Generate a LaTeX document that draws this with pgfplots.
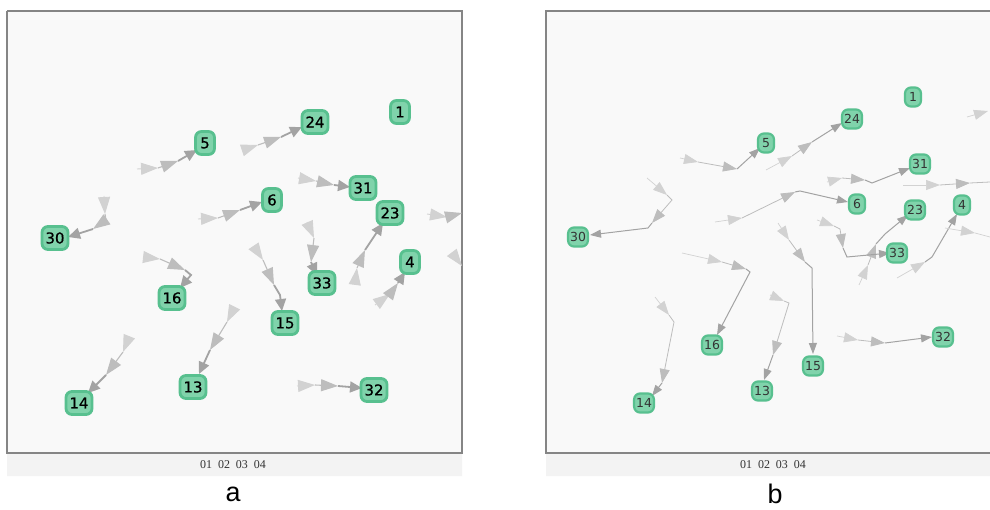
\documentclass[border=0pt]{standalone}
\usepackage{pgfplots}
\pgfplotsset{compat=1.18}
\usepackage{fontspec}
\setmainfont{DejaVu Sans}
\newfontfamily\nodefont[FakeBold=0.7]{DejaVu Sans}
\newfontfamily\capfont{Liberation Sans}
\newfontfamily\serfont{Liberation Serif}
\usetikzlibrary{arrows.meta}
\definecolor{nfill}{HTML}{80D3AB}
\definecolor{nborder}{HTML}{58C08F}
\definecolor{ga}{HTML}{D2D2D2}
\definecolor{gb}{HTML}{BDBDBD}
\definecolor{gc}{HTML}{A3A3A3}
\definecolor{panelbg}{HTML}{F9F9F9}
\definecolor{stripbg}{HTML}{F3F3F3}
\definecolor{framec}{HTML}{858585}
\pgfplotsset{
 aA/.style={ga, line width=0.9bp, -{Triangle[length=17bp,width=12bp]}},
 aB/.style={gb, line width=1.1bp, -{Triangle[length=17bp,width=12bp]}},
 aC/.style={gc, line width=1.8bp, -{Triangle[length=12bp,width=11bp]}},
 bA/.style={ga, line width=0.7bp, -{Triangle[length=14bp,width=10bp]}},
 bB/.style={gb, line width=0.8bp, -{Triangle[length=14bp,width=10bp]}},
 bC/.style={gc, line width=1.0bp, -{Triangle[length=11bp,width=8bp]}},
}
\newcommand{\seg}[2]{\addplot[#1] coordinates {#2};}
\begin{document}
\begin{tikzpicture}
\begin{axis}[x=1bp, y=1bp, xmin=0, xmax=990, ymin=0, ymax=510, y dir=reverse,
  axis lines=none, scale only axis]
% page
\addplot[fill=white, draw=none] coordinates {(0,0) (990,0) (990,510) (0,510) (0,0)};
% panel a
\addplot[fill=stripbg, draw=none] coordinates {(7,453) (462,453) (462,476) (7,476) (7,453)};
\addplot[fill=panelbg, draw=framec, line width=1.5bp] coordinates {(7,11) (462,11) (462,453) (7,453) (7,11)};
% panel b
\addplot[fill=stripbg, draw=none] coordinates {(546,453) (990,453) (990,476) (546,476) (546,453)};
\addplot[fill=panelbg, draw=none] coordinates {(546,11) (990,11) (990,453) (546,453) (546,11)};
\addplot[draw=framec, line width=1.5bp] coordinates {(990,11) (546,11) (546,453) (990,453)};

% ---- panel a trajectories
\seg{aA}{(137,169) (158,168)} \seg{aB}{(158,168) (178,161)} \seg{aC}{(178,161) (197,150)}
\seg{aA}{(243,150) (258,145)} \seg{aB}{(258,145) (281,137)} \seg{aC}{(281,137) (302,127)}
\seg{aA}{(298,178) (316,181)} \seg{aB}{(316,181) (334,185)} \seg{aC}{(334,185) (350,187)}
\seg{aA}{(198,219) (218,218)} \seg{aB}{(218,218) (240,210)} \seg{aC}{(240,210) (262,202)}
\seg{aA}{(104,196) (105,214)} \seg{aB}{(105,214) (106,220) (93,229)} \seg{aC}{(93,229) (68,237)}
\seg{aA}{(355,283) (357,268)} \seg{aB}{(357,268) (365,250)} \seg{aC}{(365,250) (383,223)}
\seg{aA}{(375,305) (390,294)} \seg{aB}{(390,294) (398,283)} \seg{aC}{(398,283) (405,272)}
\seg{aA}{(307,222) (314,238)} \seg{aB}{(314,238) (311,262)} \seg{aC}{(311,262) (317,275)}
\seg{aA}{(255,248) (263,260)} \seg{aB}{(263,260) (274,285)} \seg{aC}{(274,285) (280,295) (282,311)}
\seg{aA}{(143,257) (160,259)} \seg{aB}{(160,259) (185,270)} \seg{aC}{(185,270) (191,275) (180,288)}
\seg{aA}{(232,312) (227,322)} \seg{aB}{(227,322) (210,350)} \seg{aC}{(210,350) (199,374)}
\seg{aA}{(129,337) (123,352)} \seg{aB}{(123,352) (106,375)} \seg{aC}{(106,375) (88,393)}
\seg{aA}{(297,386) (315,385)} \seg{aB}{(315,385) (338,386)} \seg{aC}{(338,386) (362,388)}
\seg{aA}{(427,214) (447,217)} \seg{aB}{(447,217) (462,213)}
\seg{aA}{(456,258) (462,266)}

% ---- panel b trajectories
\seg{bA}{(680,158) (698,162)} \seg{bB}{(698,162) (737,169)} \seg{bC}{(737,169) (760,148)}
\seg{bA}{(766,170) (792,156)} \seg{bB}{(792,156) (812,142)} \seg{bC}{(812,142) (842,123)}
\seg{bA}{(827,182) (842,178)} \seg{bB}{(842,178) (865,180)} \seg{bC}{(865,180) (872,183) (910,168)}
\seg{bA}{(715,222) (742,218)} \seg{bB}{(742,218) (795,192)} \seg{bC}{(795,192) (800,191) (848,202)}
\seg{bA}{(647,178) (667,195)} \seg{bB}{(667,195) (672,200) (652,223)} \seg{bC}{(652,223) (648,228) (590,235)}
\seg{bA}{(859,285) (868,265)} \seg{bB}{(868,265) (876,244)} \seg{bC}{(876,244) (885,234) (908,215)}
\seg{bA}{(817,220) (834,226)} \seg{bB}{(834,226) (840,229) (843,248)} \seg{bC}{(843,248) (847,257) (890,253)}
\seg{bA}{(897,278) (925,262)} \seg{bC}{(925,262) (932,257) (957,214)}
\seg{bA}{(778,223) (789,240)} \seg{bB}{(789,240) (805,262)} \seg{bC}{(805,262) (812,268) (813,354)}
\seg{bA}{(682,253) (722,262)} \seg{bB}{(722,262) (746,269)} \seg{bC}{(746,269) (750,272) (717,335)}
\seg{bA}{(770,295) (784,301)} \seg{bB}{(784,301) (789,303) (773,355)} \seg{bC}{(773,355) (764,380)}
\seg{bA}{(655,297) (669,315)} \seg{bB}{(669,315) (674,322) (662,383)} \seg{bC}{(662,383) (652,396)}
\seg{bA}{(837,336) (858,340)} \seg{bB}{(858,340) (885,343)} \seg{bC}{(885,343) (932,337)}
\seg{bA}{(903,185) (940,185)} \seg{bB}{(940,185) (970,183)} \addplot[gb, line width=0.8bp] coordinates {(970,183) (990,182)};
\seg{bA}{(967,117) (988,111)}
\seg{bA}{(945,228) (975,233)} \addplot[ga, line width=0.7bp] coordinates {(975,233) (990,237)};

% ---- nodes panel a
\addplot[draw=none, mark=none, point meta=explicit symbolic, nodes near coords,
  nodes near coords align=center,
  nodes near coords style={anchor=center, fill=nfill, draw=nborder, line width=2.8bp,
    rounded corners=6bp, inner xsep=3.5bp, inner ysep=2.5bp, minimum height=23bp,
    minimum width=19bp, text=black, font=\nodefont\fontsize{15}{16}\selectfont}]
 table[meta=l] {
x y l
400 112 1
315 122 24
205 143 5
363 188 31
272 200 6
390 213 23
55 238 30
410 262 4
322 283 33
172 298 16
285 323 15
193 387 13
79 403 14
374 390 32
};
% ---- nodes panel b
\addplot[draw=none, mark=none, point meta=explicit symbolic, nodes near coords,
  nodes near coords align=center,
  nodes near coords style={anchor=center, fill=nfill, draw=nborder, line width=2.2bp,
    rounded corners=6bp, inner xsep=2bp, inner ysep=1.5bp, minimum height=19bp,
    minimum width=16bp, text=black!80, font=\fontsize{12.5}{13}\selectfont}]
 table[meta=l] {
x y l
913 97 1
852 119 24
766 143 5
920 164 31
857 204 6
915 210 23
962 205 4
897 253 33
578 237 30
712 345 16
813 366 15
762 391 13
644 403 14
943 337 32
};
% ---- texts
\addplot[draw=none, mark=none, point meta=explicit symbolic, nodes near coords,
  nodes near coords align=center,
  nodes near coords style={anchor=center, text=black!80, font=\serfont\fontsize{12}{13}\selectfont}]
 table[meta=l] {
x y l
233 465 {01\hspace{6bp}02\hspace{6bp}03\hspace{6bp}04}
773 465 {01\hspace{6bp}02\hspace{6bp}03\hspace{6bp}04}
};
\addplot[draw=none, mark=none, point meta=explicit symbolic, nodes near coords,
  nodes near coords align=center,
  nodes near coords style={anchor=center, text=black, font=\capfont\fontsize{27}{28}\selectfont}]
 table[meta=l] {
x y l
233 494 a
775 494 b
};
\end{axis}
\end{tikzpicture}
\end{document}
